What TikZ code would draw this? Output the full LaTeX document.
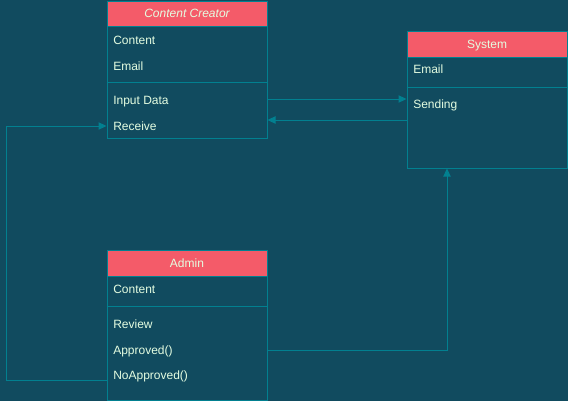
\documentclass[tikz,border=0pt]{standalone}
\usepackage{fontspec}
\setmainfont{Liberation Sans}
\usetikzlibrary{arrows.meta}
\definecolor{bg}{HTML}{114B5F}
\definecolor{strk}{HTML}{028090}
\definecolor{hdr}{HTML}{F45B69}
\definecolor{txt}{HTML}{E4FDE1}
\tikzset{
  box/.style={draw=strk, line width=0.75pt, fill=bg, minimum width=120pt, inner sep=0pt},
  head/.style={draw=strk, line width=0.75pt, fill=hdr, text=txt, minimum width=120pt, inner sep=0pt, text height=6.45pt, text depth=0pt},
  row/.style={anchor=base west, text=txt, inner sep=0pt},
  sep/.style={draw=strk, line width=0.75pt},
  conn/.style={draw=strk, line width=0.75pt, -{Triangle[length=6pt,width=5.5pt]}}
}
\begin{document}
\begin{tikzpicture}[x=0.75pt,y=-0.75pt, font=\fontsize{9pt}{11pt}\selectfont]
\fill[bg] (0,0) rectangle (568,401);
\useasboundingbox (0,0) rectangle (568,401);

% Content Creator
\node[box, minimum height=102.75pt] (cc) at (187,69.5) {};
\node[head, minimum height=18.75pt] (cch) at (187,13.5) {\itshape Content Creator};
\draw[sep] (cc.west |- 0,82) -- (cc.east |- 0,82);
\node[row] (cc1) at (113,44.3) {Content};
\node[row] (cc2) at (113,70.3) {Email};
\node[row] (cc3) at (113,104) {Input Data};
\node[row] (cc4) at (113,130) {Receive};

% System
\node[box, minimum height=102.75pt] (sys) at (487,99.5) {};
\node[head, minimum height=19.5pt] (sysh) at (487,44) {System};
\draw[sep] (sys.west |- 0,87) -- (sys.east |- 0,87);
\node[row] (sys1) at (413,73.7) {Email};
\node[row] (sys2) at (413,108.3) {Sending};

% Admin
\node[box, minimum height=112.5pt] (adm) at (187,325) {};
\node[head, minimum height=19.5pt] (admh) at (187,263) {Admin};
\draw[sep] (adm.west |- 0,306) -- (adm.east |- 0,306);
\node[row] (adm1) at (113,293.7) {Content};
\node[row] (adm2) at (113,328.3) {Review};
\node[row] (adm3) at (113,354.3) {Approved()};
\node[row] (adm4) at (113,379.3) {NoApproved()};

% connectors
\draw[conn] (cc.east |- 0,99) -- (sys.west |- 0,99);
\draw[conn] (sys.west |- 0,120) -- (cc.east |- 0,120);
\draw[conn] (adm.west |- 0,380) -- ++(-100,0) |- (cc.west |- 0,126);
\draw[conn] (adm.east |- 0,350) -| (sys.south -| 447,0);
\end{tikzpicture}
\end{document}
